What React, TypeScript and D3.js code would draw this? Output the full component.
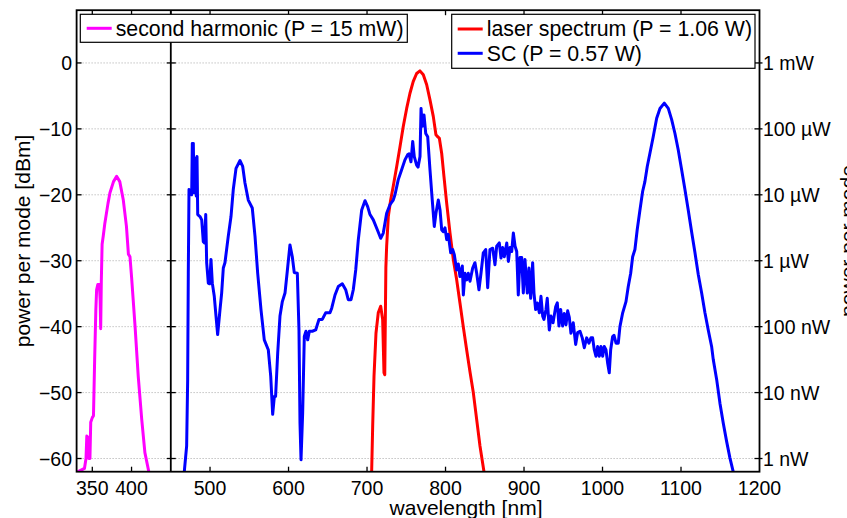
import React, { useEffect, useRef } from 'react';
import * as d3 from 'd3';

// [wavelength nm, power dBm]
const secondHarmonic: [number, number][] = [
  [332, -62], [340, -61.5], [342, -60], [343, -56.6], [344.5, -56.8], [345.5, -60], [347, -60],
  [348, -54.5], [350, -53.8], [351.5, -53.5], [353, -45], [354.5, -37.5], [355.5, -34.4],
  [357, -33.6], [359, -33.6], [360, -36], [360.7, -40.3], [361.5, -33], [362.5, -27.5],
  [364, -26.2], [366, -24.3], [370, -21.3], [372.5, -19.7], [377, -18], [381, -17.2],
  [385, -18], [389.5, -20.8], [393.5, -24.8], [396, -29], [398, -29.4], [400, -32.4],
  [404.5, -40], [408.5, -47.5], [413, -54.1], [417, -59.1], [422, -62],
];

const laserSpectrum: [number, number][] = [
  [705.9, -62], [707.2, -55.1], [708.9, -47.5], [711.4, -41], [714.3, -37.9], [717.4, -36.9],
  [719.9, -38.9], [721.6, -47], [722.6, -47.3], [724, -31], [725, -27.8], [727.1, -23.3],
  [730.1, -20.8], [733.4, -18.7], [737.8, -15.7], [742, -12.7], [746.2, -9.6], [750.5, -6.9],
  [754.7, -4.6], [758.9, -2.8], [763.2, -1.6], [767.4, -1.2], [771.7, -1.8], [776, -3.3],
  [780.2, -5.6], [784.4, -8.1], [787.8, -10.9], [790, -11.2], [792.1, -11.4], [795.1, -13.7],
  [798, -17.2], [801.5, -21.3], [805.7, -25.8], [809.9, -29.8], [814.2, -32.9], [818.4, -36.4],
  [822.6, -40], [826.9, -43.5], [831.1, -46.8], [835.4, -50], [839.7, -54.1], [843.9, -58.1],
  [849, -62],
];

const scSpectrum: [number, number][] = [
  [467.2, -62], [470.2, -58.1], [471.5, -48], [472.3, -31.9], [473.2, -19.2], [476.6, -20],
  [477.4, -12.2], [478.7, -12.2], [479.6, -19.7], [481.7, -14.4], [482.5, -20.2], [483.4, -14.2],
  [484.3, -23], [487.2, -23.3], [489.4, -23.8], [491.4, -27.1], [493, -27.3], [494.5, -23],
  [495.7, -30.3], [497.8, -33.4], [499.5, -33.5], [501.2, -29.8], [502.9, -33.4], [505.4, -35.4],
  [507.6, -38.4], [509.7, -41.2], [512.7, -37.4], [514.8, -34.9], [516.9, -31.1], [519, -30.3],
  [523.2, -26.3], [526.7, -23.3], [529.6, -19.2], [533.1, -16], [538.2, -14.8], [541.6, -15.7],
  [544.5, -18.2], [548.7, -20.8], [553.8, -22], [557.3, -26.3], [560.7, -31.9], [564.9, -37.4],
  [569.1, -42], [574.2, -43.5], [577.3, -47.5], [579.8, -53.3], [581.9, -50.6], [583.5, -50.6],
  [586.2, -44], [589.1, -38.4], [592.1, -36.2], [595.5, -34.9], [598.4, -31.6], [601.8, -27.6],
  [604.8, -29.4], [607.3, -31.8], [611.2, -31.9], [613.3, -40.5], [614.6, -54.6], [615.9, -60.2],
  [618, -53.1], [620.1, -41.5], [622.2, -40.7], [624.4, -42], [626.5, -40.7], [630.3, -40.7],
  [634.6, -40.5], [638.8, -38.9], [643, -38.9], [647.3, -37.9], [652.8, -37.9], [655, -37.2],
  [659.2, -35.2], [663.4, -33.9], [668.5, -33.5], [672.8, -34.4], [676.1, -35.9], [679.6, -35.9],
  [682.5, -34.4], [685.6, -31.4], [688.9, -26.8], [693.2, -22.3], [697.4, -20.9], [700.8, -21.8],
  [703.8, -23], [708, -23.8], [713.1, -25.3], [717.4, -26.6], [720.7, -25.8], [725, -22.8],
  [729.2, -21.5], [733.4, -20.8], [735.6, -20], [739.8, -17.7], [744.1, -16.2], [748.3, -14.7],
  [751.8, -13.9], [753.5, -13.8], [756, -15], [758.2, -11.9], [760.2, -14.2], [763.2, -15.5],
  [765, -15.8], [767.5, -14.2], [768.8, -6.9], [770.4, -9.6], [772.6, -7.9], [774.8, -10.7],
  [777.3, -11.2], [780.2, -16.2], [783.1, -20.8], [785.7, -24.8], [787.8, -22.8], [790.8, -20.8],
  [793, -22.3], [795.1, -25.3], [797, -25.6], [799.3, -25], [801.5, -26.8], [803.5, -26],
  [806.6, -28.8], [809.1, -28.3], [811.2, -29.1], [814.2, -31.4], [816.3, -30.5], [818.4, -32.4],
  [821.4, -30.8], [822.7, -35.2], [824.8, -31.9], [827, -32.9], [829, -31.9], [831.2, -33.1],
  [834.6, -31.1], [837.5, -30.3], [839.7, -31.9], [842.6, -34.4], [845.2, -31.9], [848.1, -28.8],
  [851.2, -28.3], [853.7, -34.1], [856.6, -28.3], [860.1, -28.1], [863, -30.6], [865.2, -27.8],
  [868.5, -27.3], [870.7, -29.6], [872.8, -28], [874.9, -29.4], [878, -27.3], [880.1, -30.1],
  [882.2, -28], [884.3, -28.6], [886.4, -25.8], [888.6, -27.8], [890.7, -28.6], [892.7, -35.2],
  [894.9, -29.5], [897, -29.5], [899.1, -34.9], [901.2, -29.8], [904.2, -34.9], [906.3, -31.1],
  [908.5, -35.7], [911, -30.3], [912.7, -34.9], [914.8, -37.4], [916.9, -36.4], [919.5, -37.9],
  [921.6, -35.4], [923.8, -38.4], [925.4, -38.9], [928, -37.4], [929.6, -35.7], [932.2, -40.5],
  [934.3, -38.4], [937, -39.4], [940.3, -37], [942.4, -36.4], [944.5, -39.9], [946.7, -37.4],
  [949.2, -39.9], [951.3, -38], [953.5, -39.7], [955.6, -37.6], [957.7, -38.6], [959.8, -41],
  [962.7, -39.4], [965.8, -42.7], [968.3, -40.9], [971.3, -40.7], [974.2, -41.7], [976.8, -43.2],
  [979.8, -41.7], [982.7, -42.5], [985.3, -41.7], [987.4, -41.7], [989.5, -43.5], [991.7, -44.5],
  [993.8, -43], [995.9, -44.5], [998, -43], [1000.2, -44.5], [1002.2, -43], [1004.4, -43.5],
  [1006.5, -45.5], [1008.6, -47], [1010.4, -43.5], [1012.9, -41.5], [1014.6, -41.3], [1017.2, -42.5],
  [1020.1, -42.5], [1022.2, -40], [1025.7, -37.9], [1029.9, -36.2], [1032.8, -33.9], [1035.9, -31.9],
  [1038.4, -29.4], [1041.3, -28.3], [1044.2, -25.3], [1047.7, -22.3], [1051.1, -19.5], [1054, -18],
  [1057, -15.7], [1060.4, -13.7], [1064.6, -11.2], [1069, -8.4], [1073.2, -6.9], [1078.7, -6.1],
  [1083.8, -6.9], [1088.1, -8.6], [1092.3, -10.7], [1096.5, -13.2], [1100.8, -16.2], [1105, -19.2],
  [1109.2, -22.3], [1113.5, -25.6], [1117.8, -28.8], [1122, -32.1], [1126.3, -34.9], [1130.5, -37.9],
  [1134.7, -40.5], [1139, -43], [1141.1, -45], [1145.4, -48], [1149.6, -51.6], [1153.8, -54.6],
  [1158.1, -57.4], [1162.3, -59.9], [1166.5, -62],
];

const yTicks = [-60, -50, -40, -30, -20, -10, 0];
const rightTickLabels = ['1 nW', '10 nW', '100 nW', '1 µW', '10 µW', '100 µW', '1 mW'];
const xTickLabels = [350, 400, 500, 600, 700, 800, 900, 1000, 1100, 1200];
const topTicks = [350, 400, 450, 500, 600, 700, 800, 900, 1000, 1100];
const splitAt = 450; // second harmonic axes end here

const legendLeft = [{ name: 'second harmonic (P = 15 mW)', color: '#ff00ff' }];
const legendRight = [
  { name: 'laser spectrum (P = 1.06 W)', color: '#ff0000' },
  { name: 'SC (P = 0.57 W)', color: '#0000ff' },
];

const FONT = "'Liberation Sans', Arial, sans-serif";

const App: React.FC = () => {
  const svgRef = useRef<SVGSVGElement>(null);

  useEffect(() => {
    if (!svgRef.current) return;
    const svg = d3.select(svgRef.current);
    svg.selectAll('*').remove();

    const x = d3.scaleLinear().domain([330, 1200]).range([76.6, 759.5]);
    const y = d3.scaleLinear().domain([-62, 8]).range([471.7, 10.2]);
    const [x0, x1] = x.range();
    const [y0, y1] = y.range(); // y0 bottom, y1 top

    svg.append('rect').attr('width', 847).attr('height', 518).style('fill', '#fff');

    svg.append('clipPath').attr('id', 'plot-clip')
      .append('rect')
      .attr('x', x0).attr('y', y1)
      .attr('width', x1 - x0).attr('height', y0 - y1);

    // dotted grid
    svg.append('g').selectAll('line')
      .data(yTicks)
      .enter().append('line')
      .attr('x1', x0).attr('x2', x1)
      .attr('y1', d => y(d)).attr('y2', d => y(d))
      .style('stroke', '#a6a6a6')
      .style('stroke-width', 1)
      .style('stroke-dasharray', '1,2');

    // curves
    const line = d3.line<[number, number]>()
      .x(d => x(d[0]))
      .y(d => y(d[1]));

    const curves = svg.append('g').attr('clip-path', 'url(#plot-clip)');
    const series: [[number, number][], string][] = [
      [secondHarmonic, '#ff00ff'],
      [laserSpectrum, '#ff0000'],
      [scSpectrum, '#0000ff'],
    ];
    series.forEach(([data, color]) => {
      curves.append('path')
        .attr('d', line(data))
        .style('fill', 'none')
        .style('stroke', color)
        .style('stroke-width', 3)
        .style('stroke-linejoin', 'round')
        .style('stroke-linecap', 'round');
    });

    // axes box
    const axes = svg.append('g').style('stroke', '#000');
    axes.append('rect')
      .attr('x', x0).attr('y', y1)
      .attr('width', x1 - x0).attr('height', y0 - y1)
      .style('fill', 'none')
      .style('stroke-width', 1.8);

    // split line between the two axes
    axes.append('line')
      .attr('x1', x(splitAt)).attr('x2', x(splitAt))
      .attr('y1', y1).attr('y2', y0)
      .style('stroke-width', 1.8);

    yTicks.forEach(t => {
      const yy = y(t);
      axes.append('line').attr('x1', x0).attr('x2', x0 + 5).attr('y1', yy).attr('y2', yy).style('stroke-width', 1.3);
      axes.append('line').attr('x1', x(splitAt) - 4).attr('x2', x(splitAt) + 5).attr('y1', yy).attr('y2', yy).style('stroke-width', 1.3);
      axes.append('line').attr('x1', x1 - 5).attr('x2', x1 + 3).attr('y1', yy).attr('y2', yy).style('stroke-width', 1.3);
    });

    topTicks.forEach(t => {
      axes.append('line').attr('x1', x(t)).attr('x2', x(t)).attr('y1', y1).attr('y2', y1 + 5).style('stroke-width', 1.3);
    });
    xTickLabels.filter(t => t < 1200).forEach(t => {
      axes.append('line').attr('x1', x(t)).attr('x2', x(t)).attr('y1', y0).attr('y2', y0 - 5).style('stroke-width', 1.3);
    });

    // tick labels
    const labels = svg.append('g').style('font-family', FONT).style('fill', '#000');

    labels.selectAll('.ytl')
      .data(yTicks)
      .enter().append('text')
      .attr('class', 'ytl')
      .attr('x', 72)
      .attr('y', d => y(d) + 7)
      .attr('text-anchor', 'end')
      .style('font-size', '19.5px')
      .text(d => (d < 0 ? '\u2212' + Math.abs(d) : String(d)));

    labels.selectAll('.rtl')
      .data(yTicks)
      .enter().append('text')
      .attr('class', 'rtl')
      .attr('x', 763)
      .attr('y', d => y(d) + 7)
      .attr('text-anchor', 'start')
      .style('font-size', '19.5px')
      .text((_, i) => rightTickLabels[i]);

    labels.selectAll('.xtl')
      .data(xTickLabels)
      .enter().append('text')
      .attr('class', 'xtl')
      .attr('x', d => x(d))
      .attr('y', 495)
      .attr('text-anchor', 'middle')
      .style('font-size', '19.5px')
      .text(d => String(d));

    // axis titles
    labels.append('text')
      .attr('transform', 'translate(466, 515)')
      .attr('text-anchor', 'middle')
      .style('font-size', '21px')
      .text('wavelength [nm]');

    labels.append('text')
      .attr('transform', 'translate(30, 241) rotate(-90)')
      .attr('text-anchor', 'middle')
      .style('font-size', '21px')
      .text('power per mode [dBm]');

    // right title sits mostly outside the page, as in the original figure
    labels.append('text')
      .attr('transform', 'translate(855, 241) rotate(-90)')
      .attr('text-anchor', 'middle')
      .style('font-size', '21px')
      .text('power per mode');

    // legends
    const drawLegend = (
      items: { name: string; color: string }[],
      bx: number, by: number, bw: number, bh: number,
      lineX: number, rowY: number[],
    ) => {
      const lg = svg.append('g').style('font-family', FONT);
      lg.append('rect')
        .attr('x', bx).attr('y', by).attr('width', bw).attr('height', bh)
        .style('fill', '#fff')
        .style('stroke', '#000')
        .style('stroke-width', 1.2);
      items.forEach((it, i) => {
        lg.append('line')
          .attr('x1', lineX).attr('x2', lineX + 25)
          .attr('y1', rowY[i]).attr('y2', rowY[i])
          .style('stroke', it.color)
          .style('stroke-width', 3);
        lg.append('text')
          .attr('x', lineX + 29)
          .attr('y', rowY[i] + 7.4)
          .style('font-size', '21.3px')
          .style('fill', '#000')
          .text(it.name);
      });
    };

    drawLegend(legendLeft, 80.3, 14.3, 327, 28, 86.7, [28.3]);
    drawLegend(legendRight, 451.7, 14.3, 303.3, 54, 457.7, [29, 53.3]);
  }, []);

  return (
    <svg
      ref={svgRef}
      width={847}
      height={518}
      style={{ position: 'absolute', left: 0, top: 0, display: 'block' }}
    />
  );
};

export default App;
